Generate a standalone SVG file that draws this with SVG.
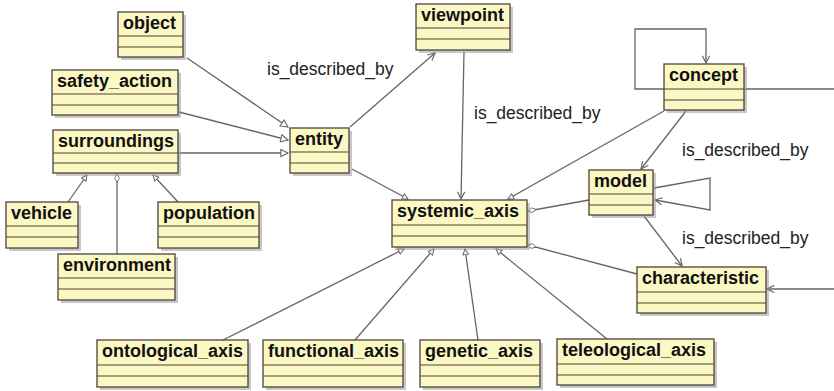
<svg xmlns="http://www.w3.org/2000/svg" width="834" height="391" viewBox="0 0 834 391">
<style>
.sh{fill:#9a9a9a;opacity:0.55}
.box{fill:#fcf8c4;stroke:#4d4339;stroke-width:1.3}
.sep{stroke:#4d4339;stroke-width:1.2}
.t{font-family:"Liberation Sans",Arial,sans-serif;font-weight:bold;font-size:18px;fill:#111}
.lbl{font-family:"Liberation Sans",Arial,sans-serif;font-size:17.5px;fill:#222}
.c{fill:none;stroke:#6a6460;stroke-width:1.3}
</style>
<defs>
<marker id="vee" viewBox="0 0 10 10" refX="9" refY="5" markerWidth="9" markerHeight="9" markerUnits="userSpaceOnUse" orient="auto"><path d="M1,1 L9,5 L1,9" fill="none" stroke="#6a6460" stroke-width="1.3"/></marker>
<marker id="tri" viewBox="0 0 10 10" refX="9" refY="5" markerWidth="9" markerHeight="9" markerUnits="userSpaceOnUse" orient="auto"><path d="M1,1 L9,5 L1,9 Z" fill="#fff" stroke="#6a6460" stroke-width="1.2"/></marker>
<marker id="tris" viewBox="0 0 10 10" refX="9" refY="5" markerWidth="7" markerHeight="7" markerUnits="userSpaceOnUse" orient="auto"><path d="M1,1 L9,5 L1,9 Z" fill="#fff" stroke="#6a6460" stroke-width="1.4"/></marker>
<marker id="dia" viewBox="0 0 12 8" refX="0.5" refY="4" markerWidth="9" markerHeight="6" markerUnits="userSpaceOnUse" orient="auto"><path d="M0.5,4 L6,0.8 L11.5,4 L6,7.2 Z" fill="#fff" stroke="#6a6460" stroke-width="1.2"/></marker>
</defs>

<g id="connectors">
<line class="c" x1="187" y1="58" x2="288" y2="127" marker-end="url(#tri)"/>
<line class="c" x1="179" y1="112" x2="288" y2="140" marker-end="url(#tri)"/>
<line class="c" x1="179" y1="153" x2="288" y2="153" marker-end="url(#tri)"/>
<line class="c" x1="350" y1="127" x2="435" y2="53" marker-end="url(#vee)"/>
<line class="c" x1="352" y1="169" x2="408" y2="199" marker-end="url(#tris)"/>
<line class="c" x1="464" y1="52" x2="461" y2="199" marker-end="url(#vee)"/>
<line class="c" x1="664" y1="111" x2="508" y2="199" marker-end="url(#tris)"/>
<line class="c" x1="686" y1="111" x2="641" y2="169" marker-end="url(#vee)"/>
<polyline class="c" points="664,89 635,89 635,29 706,29 706,63" marker-end="url(#vee)"/>
<line class="c" x1="745" y1="89" x2="834" y2="89"/>
<polyline class="c" points="654,188 710,178 710,210 655,200" marker-end="url(#vee)"/>
<line class="c" x1="528" y1="211" x2="589" y2="200" marker-start="url(#dia)"/>
<line class="c" x1="528" y1="245" x2="637" y2="274" marker-start="url(#dia)"/>
<line class="c" x1="644" y1="216" x2="682" y2="266" marker-end="url(#vee)"/>
<line class="c" x1="834" y1="289" x2="767" y2="289" marker-end="url(#vee)"/>
<line class="c" x1="223" y1="340" x2="404" y2="249" marker-end="url(#tris)"/>
<line class="c" x1="355" y1="340" x2="434" y2="249" marker-end="url(#tris)"/>
<line class="c" x1="478" y1="340" x2="465" y2="249" marker-end="url(#tris)"/>
<line class="c" x1="607" y1="339" x2="496" y2="249" marker-end="url(#tris)"/>
<line class="c" x1="68" y1="202" x2="87" y2="175" marker-end="url(#tris)"/>
<line class="c" x1="117" y1="174" x2="117" y2="254" marker-start="url(#dia)"/>
<line class="c" x1="178" y1="202" x2="153" y2="175" marker-end="url(#tris)"/>
<text class="lbl" x="267" y="75">is_described_by</text>
<text class="lbl" x="474" y="119">is_described_by</text>
<text class="lbl" x="682" y="156">is_described_by</text>
<text class="lbl" x="682" y="244">is_described_by</text>
</g>

<g id="object"><rect class="sh" x="121" y="15" width="65" height="45"/><rect class="box" x="118" y="12" width="65" height="45"/><line class="sep" x1="118" y1="36" x2="183" y2="36"/><line class="sep" x1="118" y1="47" x2="183" y2="47"/><text class="t" x="123" y="29">object</text></g>
<g id="viewpoint"><rect class="sh" x="419" y="7" width="94" height="46"/><rect class="box" x="416" y="4" width="94" height="46"/><line class="sep" x1="416" y1="28" x2="510" y2="28"/><line class="sep" x1="416" y1="39" x2="510" y2="39"/><text class="t" x="421" y="21">viewpoint</text></g>
<g id="safety_action"><rect class="sh" x="55" y="73" width="126" height="45"/><rect class="box" x="52" y="70" width="126" height="45"/><line class="sep" x1="52" y1="94" x2="178" y2="94"/><line class="sep" x1="52" y1="105" x2="178" y2="105"/><text class="t" x="57" y="87">safety_action</text></g>
<g id="surroundings"><rect class="sh" x="56" y="133" width="125" height="43"/><rect class="box" x="53" y="130" width="125" height="43"/><line class="sep" x1="53" y1="153" x2="178" y2="153"/><line class="sep" x1="53" y1="163" x2="178" y2="163"/><text class="t" x="58" y="147">surroundings</text></g>
<g id="entity"><rect class="sh" x="293" y="131" width="59" height="45"/><rect class="box" x="290" y="128" width="59" height="45"/><line class="sep" x1="290" y1="152" x2="349" y2="152"/><line class="sep" x1="290" y1="163" x2="349" y2="163"/><text class="t" x="295" y="145">entity</text></g>
<g id="concept"><rect class="sh" x="667" y="67" width="80" height="46"/><rect class="box" x="664" y="64" width="80" height="46"/><line class="sep" x1="664" y1="89" x2="744" y2="89"/><line class="sep" x1="664" y1="100" x2="744" y2="100"/><text class="t" x="669" y="81">concept</text></g>
<g id="model"><rect class="sh" x="592" y="173" width="64" height="45"/><rect class="box" x="589" y="170" width="64" height="45"/><line class="sep" x1="589" y1="194" x2="653" y2="194"/><line class="sep" x1="589" y1="205" x2="653" y2="205"/><text class="t" x="594" y="187">model</text></g>
<g id="systemic_axis"><rect class="sh" x="395" y="203" width="135" height="47"/><rect class="box" x="392" y="200" width="135" height="47"/><line class="sep" x1="392" y1="225" x2="527" y2="225"/><line class="sep" x1="392" y1="236" x2="527" y2="236"/><text class="t" x="397" y="217">systemic_axis</text></g>
<g id="characteristic"><rect class="sh" x="640" y="270" width="129" height="46"/><rect class="box" x="637" y="267" width="129" height="46"/><line class="sep" x1="637" y1="292" x2="766" y2="292"/><line class="sep" x1="637" y1="303" x2="766" y2="303"/><text class="t" x="642" y="284">characteristic</text></g>
<g id="vehicle"><rect class="sh" x="9" y="205" width="72" height="46"/><rect class="box" x="6" y="202" width="72" height="46"/><line class="sep" x1="6" y1="226" x2="78" y2="226"/><line class="sep" x1="6" y1="237" x2="78" y2="237"/><text class="t" x="11" y="219">vehicle</text></g>
<g id="population"><rect class="sh" x="161" y="205" width="101" height="46"/><rect class="box" x="158" y="202" width="101" height="46"/><line class="sep" x1="158" y1="226" x2="259" y2="226"/><line class="sep" x1="158" y1="237" x2="259" y2="237"/><text class="t" x="163" y="219">population</text></g>
<g id="environment"><rect class="sh" x="61" y="257" width="117" height="46"/><rect class="box" x="58" y="254" width="117" height="46"/><line class="sep" x1="58" y1="278" x2="175" y2="278"/><line class="sep" x1="58" y1="289" x2="175" y2="289"/><text class="t" x="63" y="271">environment</text></g>
<g id="ontological_axis"><rect class="sh" x="100" y="343" width="151" height="47"/><rect class="box" x="97" y="340" width="151" height="47"/><line class="sep" x1="97" y1="365" x2="248" y2="365"/><line class="sep" x1="97" y1="376" x2="248" y2="376"/><text class="t" x="102" y="357">ontological_axis</text></g>
<g id="functional_axis"><rect class="sh" x="266" y="343" width="140" height="47"/><rect class="box" x="263" y="340" width="140" height="47"/><line class="sep" x1="263" y1="365" x2="403" y2="365"/><line class="sep" x1="263" y1="376" x2="403" y2="376"/><text class="t" x="268" y="357">functional_axis</text></g>
<g id="genetic_axis"><rect class="sh" x="423" y="343" width="120" height="47"/><rect class="box" x="420" y="340" width="120" height="47"/><line class="sep" x1="420" y1="365" x2="540" y2="365"/><line class="sep" x1="420" y1="376" x2="540" y2="376"/><text class="t" x="425" y="357">genetic_axis</text></g>
<g id="teleological_axis"><rect class="sh" x="560" y="342" width="157" height="46"/><rect class="box" x="557" y="339" width="157" height="46"/><line class="sep" x1="557" y1="364" x2="714" y2="364"/><line class="sep" x1="557" y1="375" x2="714" y2="375"/><text class="t" x="562" y="356">teleological_axis</text></g>
</svg>
